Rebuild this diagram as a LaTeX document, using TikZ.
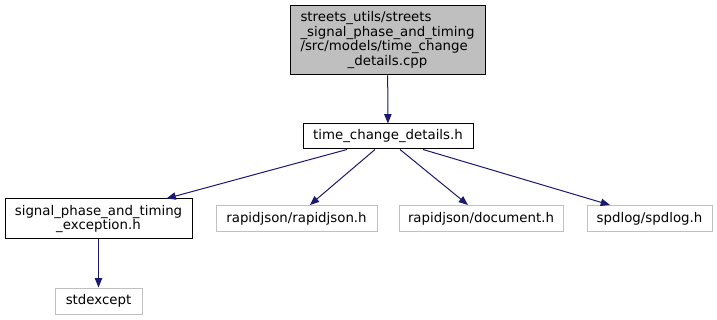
\documentclass[tikz,border=0pt]{standalone}
\usepackage{fontspec}
\setmainfont{DejaVu Sans}
\usetikzlibrary{arrows.meta}

\definecolor{edgeblue}{HTML}{191970}
\definecolor{srcgray}{HTML}{BFBFBF}
\definecolor{extgray}{HTML}{C0C0C0}

\begin{document}
\begin{tikzpicture}[
  x=0.75pt, y=-0.75pt,
  font=\fontsize{10}{11}\selectfont,
  file/.style={draw, line width=0.75pt, inner sep=0pt, align=center},
  hdr/.style={file, draw=black, fill=white},
  ext/.style={file, draw=extgray, minimum height=19.5pt},
  dep/.style={-{Triangle[length=7pt,width=5.5pt]}, edgeblue, line width=0.75pt}
]
\useasboundingbox (0,0) rectangle (717,320);

% source file and its direct header
\node[file, fill=srcgray, minimum width=146.25pt, minimum height=51.75pt] (src) at (387.5,40.5)
  {\begin{tabular}{@{}l@{}}
   streets\_utils/streets\\
   \_signal\_phase\_and\_timing\\
   /src/models/time\_change\\
   \multicolumn{1}{@{}c@{}}{\_details.cpp}
   \end{tabular}};
\node[hdr, minimum width=127.5pt, minimum height=18.75pt] (tcd) at (388,136.5) {time\_change\_details.h};

% includes of time_change_details.h
\node[hdr, minimum width=140.25pt, minimum height=30pt] (exc) at (98.5,219)
  {signal\_phase\_and\_timing\\\_exception.h};
\node[ext, minimum width=120.75pt] (rj)  at (296.5,218.5) {rapidjson/rapidjson.h};
\node[ext, minimum width=123pt]    (doc) at (481,218.5)   {rapidjson/document.h};
\node[ext, minimum width=93.75pt]  (spd) at (649.5,218.5) {spdlog/spdlog.h};
\node[ext, minimum width=65.25pt]  (stdx) at (98.5,301)   {stdexcept};

\draw[dep] (src) -- (tcd);
\draw[dep] ([xshift=-30.75pt]tcd.south) -- ([xshift=51pt]exc.north);
\draw[dep] ([xshift=-9.75pt]tcd.south) -- ([xshift=10pt]rj.north);
\draw[dep] ([xshift=9pt]tcd.south) -- ([xshift=-9.75pt]doc.north);
\draw[dep] ([xshift=26.25pt]tcd.south) -- ([xshift=-29.6pt]spd.north);
\draw[dep] (exc) -- (stdx);
\end{tikzpicture}
\end{document}
